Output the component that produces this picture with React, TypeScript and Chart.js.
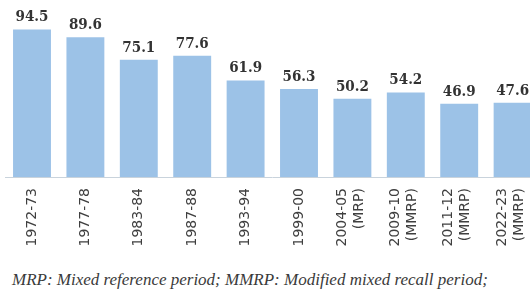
import React, { useEffect, useRef } from "react";
import { Chart, registerables } from "chart.js";

Chart.register(...registerables);

const categories: string[][] = [
  ["1972-73"],
  ["1977-78"],
  ["1983-84"],
  ["1987-88"],
  ["1993-94"],
  ["1999-00"],
  ["2004-05", "(MRP)"],
  ["2009-10", "(MMRP)"],
  ["2011-12", "(MMRP)"],
  ["2022-23", "(MMRP)"],
];
const values: number[] = [94.5, 89.6, 75.1, 77.6, 61.9, 56.3, 50.2, 54.2, 46.9, 47.6];
const valueLabels: string[] = ["94.5", "89.6", "75.1", "77.6", "61.9", "56.3", "50.2", "54.2", "46.9", "47.6"];
const footnote = "MRP: Mixed reference period; MMRP: Modified mixed recall period;";

const BAR_COLOR = "#9cc2e7";
const VALUE_COLOR = "#333333";
const TICK_COLOR = "#3f3f3f";

const valueLabelPlugin = {
  id: "valueLabels",
  afterDatasetsDraw(chart: any) {
    const ctx = chart.ctx;
    const meta = chart.getDatasetMeta(0);
    ctx.save();
    ctx.font = "bold 15px 'DejaVu Serif Condensed', 'DejaVu Serif', serif";
    ctx.fillStyle = VALUE_COLOR;
    ctx.textAlign = "center";
    ctx.textBaseline = "alphabetic";
    meta.data.forEach((bar: any, i: number) => {
      ctx.fillText(valueLabels[i], bar.x, bar.y - 8);
    });
    ctx.restore();
  },
};

const tickLabelPlugin = {
  id: "rotatedTicks",
  afterDraw(chart: any) {
    const ctx = chart.ctx;
    const xs = chart.scales.x;
    const lineH = 17;
    ctx.save();
    ctx.font = "14px 'DejaVu Sans', sans-serif";
    ctx.fillStyle = TICK_COLOR;
    ctx.textAlign = "right";
    ctx.textBaseline = "middle";
    categories.forEach((lines, i) => {
      const cx = xs.getPixelForValue(i);
      const n = lines.length;
      lines.forEach((line, j) => {
        const x = cx + (j - (n - 1) / 2) * lineH - (n > 1 ? 2 : 0);
        ctx.save();
        ctx.translate(x, xs.top + 11);
        ctx.rotate(-Math.PI / 2);
        ctx.fillText(line, 0, 0);
        ctx.restore();
      });
    });
    ctx.restore();
  },
};

function BarChart() {
  const ref = useRef<HTMLCanvasElement | null>(null);
  useEffect(() => {
    if (!ref.current) return;
    const chart = new Chart(ref.current, {
      type: "bar",
      data: {
        labels: categories.map((c) => c.join(" ")),
        datasets: [
          {
            data: values,
            backgroundColor: BAR_COLOR,
            borderWidth: 0,
            barPercentage: 0.71,
            categoryPercentage: 1,
          },
        ],
      },
      options: {
        animation: false,
        responsive: true,
        maintainAspectRatio: false,
        layout: { padding: { left: 5.3, right: 5.7, top: 5.3, bottom: 0 } },
        plugins: {
          legend: { display: false },
          tooltip: { enabled: false },
          title: { display: false },
        },
        scales: {
          x: {
            grid: { display: false },
            border: { display: true, color: "#c9d3dc", width: 1 },
            ticks: { display: false },
            afterFit: (axis: any) => {
              axis.height = 83;
            },
          },
          y: {
            display: false,
            min: 0,
            max: 110,
          },
        },
      },
      plugins: [valueLabelPlugin, tickLabelPlugin],
    });
    return () => chart.destroy();
  }, []);
  return (
    <div style={{ position: "absolute", left: 0, top: 0, width: 545, height: 260 }}>
      <canvas ref={ref} />
    </div>
  );
}

export default function App() {
  return (
    <div
      style={{
        position: "absolute",
        left: 0,
        top: 0,
        width: 530,
        height: 291,
        overflow: "hidden",
        background: "#ffffff",
      }}
    >
      <BarChart />
      <div
        style={{
          position: "absolute",
          left: 12,
          top: 270,
          whiteSpace: "nowrap",
          fontFamily: "'Liberation Serif', serif",
          fontStyle: "italic",
          fontSize: 17,
          lineHeight: "20px",
          color: "#3a3a3a",
        }}
      >
        {footnote}
      </div>
    </div>
  );
}
